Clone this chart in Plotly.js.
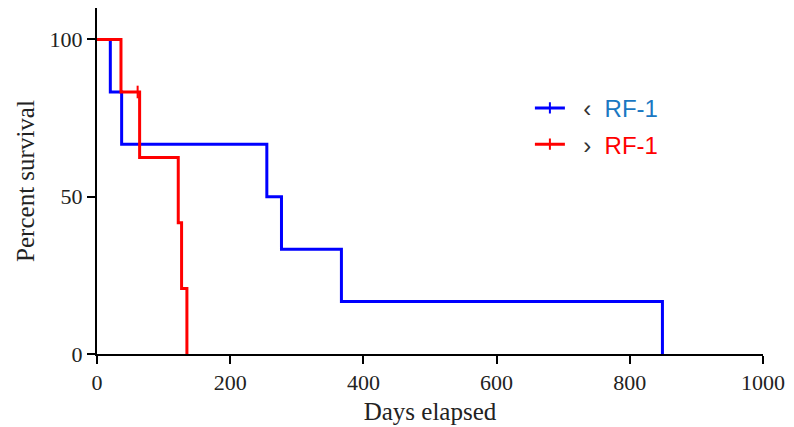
<!DOCTYPE html>
<html>
<head>
<meta charset="utf-8">
<script src="https://cdn.plot.ly/plotly-3.0.1.min.js"></script>
<style>html,body{margin:0;padding:0;background:#fff;}#chart{width:794px;height:427px;}</style>
</head>
<body>
<div id="chart"></div>
<script>
// Kaplan-Meier step data (days, percent survival)
const blueDays = [0, 20, 37, 255, 277, 367, 849];
const blueSurv = [100, 83.3, 66.7, 50, 33.3, 16.7, 0];
const redDays = [0, 36, 64, 122, 127, 135];
const redSurv = [100, 83.3, 62.5, 41.7, 20.8, 0];
// censored observations
const redCensorDays = [61];
const redCensorSurv = [83.3];
const blueName = '\u00a0\u00a0<span style="color:#333">\u2039</span>\u00a0\u00a0RF-1';
const redName = '\u00a0\u00a0<span style="color:#333">\u203a</span>\u00a0\u00a0RF-1';
const xTicks = [0, 200, 400, 600, 800, 1000];
const yTicks = [0, 50, 100];

const traces = [
  {x: blueDays, y: blueSurv, mode: 'lines', line: {shape: 'hv', color: '#0000ff', width: 3}, showlegend: false, hoverinfo: 'skip'},
  {x: redDays, y: redSurv, mode: 'lines', line: {shape: 'hv', color: '#ff0000', width: 3}, showlegend: false, hoverinfo: 'skip'},
  {x: redCensorDays, y: redCensorSurv, mode: 'markers', marker: {symbol: 'line-ns-open', size: 9, color: '#ff0000', line: {color: '#ff0000', width: 2}}, showlegend: false, hoverinfo: 'skip'},
  {x: [null], y: [null], mode: 'lines+markers', name: blueName, legendgroup: 'a',
   line: {color: '#0000ff', width: 3}, marker: {symbol: 'line-ns-open', size: 8, color: '#0000ff', line: {color: '#0000ff', width: 2}}},
  {x: [null], y: [null], mode: 'lines+markers', name: redName, legendgroup: 'b',
   line: {color: '#ff0000', width: 3}, marker: {symbol: 'line-ns-open', size: 8, color: '#ff0000', line: {color: '#ff0000', width: 2}}}
];

const layout = {
  width: 794, height: 427,
  margin: {l: 97, r: 31, t: 8, b: 73},
  paper_bgcolor: '#fff', plot_bgcolor: '#fff',
  font: {family: 'Liberation Serif, serif', size: 22, color: '#222'},
  showlegend: true,
  legend: {x: 0.65, y: 0.775, xanchor: 'left', yanchor: 'top', traceorder: 'grouped', tracegroupgap: 2,
           font: {family: 'Liberation Sans, Arial, sans-serif', size: 24, color: '#1a78c2'}, bgcolor: 'rgba(0,0,0,0)'},
  xaxis: {range: [0, 1000], tickvals: xTicks, ticktext: xTicks.map(String), showgrid: false, zeroline: false,
          showline: true, linecolor: '#000', linewidth: 2, ticks: 'outside', ticklen: 8, tickwidth: 2, tickcolor: '#000',
          title: {text: 'Days elapsed', font: {size: 25}, standoff: 8}, fixedrange: true},
  yaxis: {range: [0, 110], tickvals: yTicks, ticktext: yTicks.map(String), showgrid: false, zeroline: false,
          showline: true, linecolor: '#000', linewidth: 2, ticks: 'outside', ticklen: 8, tickwidth: 2, tickcolor: '#000',
          title: {text: 'Percent survival', font: {size: 25}, standoff: 8}, fixedrange: true}
};

Plotly.newPlot('chart', traces, layout, {displayModeBar: false, staticPlot: true}).then(() => {
  // colour second legend label red
  const texts = document.querySelectorAll('.legendtext');
  if (texts.length > 1) {
    texts[1].style.fill = '#ff0000';
  }
});
</script>
</body>
</html>
